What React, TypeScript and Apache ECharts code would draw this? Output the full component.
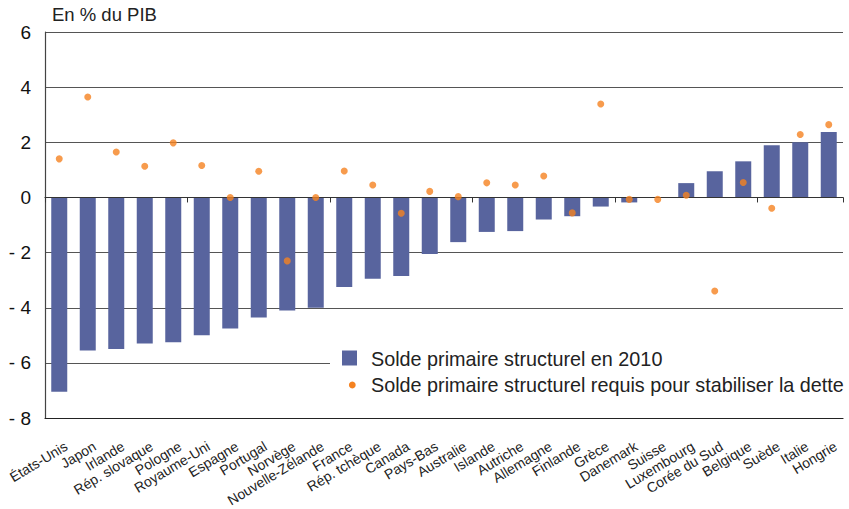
import React, { useEffect, useRef } from "react";
import * as echarts from "echarts";

const categories = [
  "États-Unis", "Japon", "Irlande", "Rép. slovaque", "Pologne", "Royaume-Uni", "Espagne",
  "Portugal", "Norvège", "Nouvelle-Zélande", "France", "Rép. tchèque", "Canada", "Pays-Bas",
  "Australie", "Islande", "Autriche", "Allemagne", "Finlande", "Grèce", "Danemark", "Suisse",
  "Luxembourg", "Corée du Sud", "Belgique", "Suède", "Italie", "Hongrie",
];

const solde2010 = [
  -7.05, -5.55, -5.5, -5.3, -5.25, -5.0, -4.75, -4.35, -4.1, -4.0, -3.25, -2.95, -2.85, -2.05,
  -1.62, -1.25, -1.22, -0.8, -0.68, -0.33, -0.18, 0.0, 0.52, 0.95, 1.31, 1.89, 2.0, 2.37,
];

const soldeRequis = [
  1.4, 3.64, 1.65, 1.13, 1.98, 1.16, 0.0, 0.95, -2.3, 0.0, 0.96, 0.45, -0.57, 0.22,
  0.03, 0.53, 0.45, 0.78, -0.56, 3.39, -0.07, -0.07, 0.08, -3.39, 0.54, -0.39, 2.28, 2.64,
];

const yTicks = { min: -8, max: 6, interval: 2 };
const seriesNames = [
  "Solde primaire structurel en 2010",
  "Solde primaire structurel requis pour stabiliser la dette",
];
const unitLabel = "En % du PIB";

const BAR_COLOR = "#58649e";
const DOT_COLOR = "#f58220";
const FONT = "'Liberation Sans', Arial, sans-serif";

export default function App() {
  const ref = useRef<HTMLDivElement>(null);
  useEffect(() => {
    if (!ref.current) return;
    const chart = echarts.init(ref.current, null, { renderer: "svg" });
    chart.setOption({
      animation: false,
      textStyle: { fontFamily: FONT },
      grid: { left: 45, right: 6, top: 32, bottom: 88, containLabel: false },
      xAxis: [
        {
          type: "category",
          data: categories,
          position: "bottom",
          axisLine: { onZero: false, show: true, lineStyle: { color: "#222", width: 1.2 } },
          axisTick: { show: false },
          axisLabel: {
            rotate: 31,
            interval: 0,
            fontSize: 14,
            color: "#222",
            margin: 31,
            padding: [0, -8, 0, 0],
            fontFamily: FONT,
          },
        },
        {
          type: "category",
          data: categories,
          position: "top",
          z: 10,
          axisLine: { onZero: true, show: true, lineStyle: { color: "#333", width: 1.2 } },
          axisTick: { show: true, inside: true, length: 5, lineStyle: { color: "#333" } },
          axisLabel: { show: false },
        },
      ],
      yAxis: {
        type: "value",
        min: yTicks.min,
        max: yTicks.max,
        interval: yTicks.interval,
        axisLine: { show: true, lineStyle: { color: "#444", width: 1.2 } },
        axisTick: { show: false },
        splitLine: { show: true, lineStyle: { color: "#555", width: 1 } },
        axisLabel: {
          fontSize: 19,
          color: "#111",
          margin: 14,
          fontFamily: FONT,
          formatter: (v: number) => (v < 0 ? "- " + Math.abs(v) : String(v)),
        },
      },
      series: [
        {
          name: seriesNames[0],
          type: "bar",
          data: solde2010,
          barWidth: 16,
          itemStyle: { color: BAR_COLOR },
          z: 2,
        },
        {
          name: seriesNames[1],
          type: "scatter",
          data: soldeRequis,
          symbol: "circle",
          symbolSize: 7,
          itemStyle: { color: DOT_COLOR },
          z: 12,
        },
      ],
      graphic: [
        {
          type: "text",
          left: 52,
          top: 5,
          style: { text: unitLabel, fontSize: 18.5, fill: "#222", fontFamily: FONT },
        },
        {
          type: "rect",
          shape: { x: 330, y: 340, width: 519, height: 58 },
          style: { fill: "#fff" },
          z: 20,
        },
        {
          type: "rect",
          shape: { x: 342, y: 350.5, width: 15, height: 15 },
          style: { fill: BAR_COLOR },
          z: 21,
        },
        {
          type: "circle",
          shape: { cx: 352.3, cy: 385, r: 3.4 },
          style: { fill: DOT_COLOR },
          z: 21,
        },
        {
          type: "text",
          x: 371,
          y: 358.5,
          z: 21,
          style: {
            text: seriesNames[0],
            fontSize: 19.8,
            fill: "#222",
            fontFamily: FONT,
            textVerticalAlign: "middle",
            verticalAlign: "middle",
          },
        },
        {
          type: "text",
          x: 371,
          y: 385,
          z: 21,
          style: {
            text: seriesNames[1],
            fontSize: 19.8,
            fill: "#222",
            fontFamily: FONT,
            textVerticalAlign: "middle",
            verticalAlign: "middle",
          },
        },
      ],
    });
    return () => chart.dispose();
  }, []);
  return (
    <div
      ref={ref}
      style={{ position: "absolute", left: 0, top: 0, width: 849, height: 509 }}
    />
  );
}
